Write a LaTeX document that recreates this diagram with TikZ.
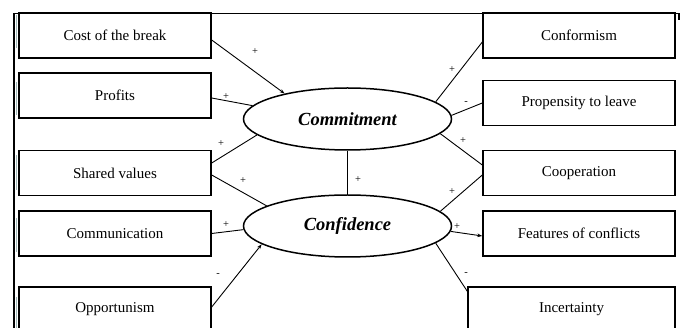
\documentclass[tikz,border=0pt]{standalone}
\usepackage{fontspec}
\setmainfont{Liberation Serif}
\usetikzlibrary{arrows.meta,shapes.geometric}
\definecolor{shadowline}{RGB}{160,185,185}
\tikzset{
  x=1pt,y=-1pt,
  box/.style={draw=black,line width=1.4pt,minimum width=192pt,minimum height=45pt,
    inner sep=0pt,font=\fontsize{15}{18}\selectfont},
  oval/.style={ellipse,draw=black,line width=1.5pt,minimum width=208pt,minimum height=62pt,
    inner sep=0pt,font=\fontsize{18.5}{22}\selectfont\bfseries\itshape},
  link/.style={draw=black,line width=0.9pt},
  arr/.style={link,-{Stealth[length=5pt,width=3.5pt]}},
  sgn/.style={font=\fontsize{10.5}{12}\selectfont,inner sep=0pt},
  shade/.style={draw=shadowline,line width=1.1pt},
  frame/.style={draw=black,line width=1.3pt}
}
\begin{document}
\begin{tikzpicture}
\useasboundingbox (0,0) rectangle (680,328);
\clip (0,0) rectangle (680,328);
\fill[white] (0,0) rectangle (680,328);
% frame
\draw[frame] (14,328) -- (14,13.5) -- (679,13.5) -- (679,20);
% left boxes
\node[box] (cost) at (115,35.5) {Cost of the break};
\node[box] (prof) at (115,95.5) {Profits};
\node[box] (shar) at (115,173) {Shared values};
\node[box] (comm) at (115,233.5) {Communication};
\node[box] (opp) at (115,309.5) {Opportunism};
% shading marks
\draw[shade] (16.5,15) -- (16.5,48);
\draw[shade] (16.5,82) -- (16.5,115);
\draw[shade] (16.5,155) -- (16.5,190);
\draw[shade] (16.5,218) -- (16.5,252);
\draw[shade] (16.5,297) -- (16.5,328);
% right boxes
\node[box] (conf) at (579,35.5) {Conformism};
\node[box] (prop) at (579,103) {Propensity to leave};
\node[box] (coop) at (579,173) {Cooperation};
\node[box] (feat) at (579,233.5) {Features of conflicts};
\node[box,minimum width=207pt] (inc) at (571.5,309.5) {Incertainty};
% ellipses
\node[oval] (cmt) at (347.5,119) {Commitment};
\node[oval] (cfd) at (347.5,226) {Confidence};
% connectors
\draw[arr] ([yshift=-4.5pt]cost.east) -- (cmt.158.8);
\draw[link] ([yshift=-2.5pt]prof.east) -- (cmt.172.8);
\draw[link] ([yshift=10pt]shar.east) -- (cmt.190.1);
\draw[link] ([yshift=-2pt]shar.east) -- (cfd.166.6);
\draw[link] (comm.east) -- (cfd.182.2);
\draw[arr] ([yshift=2.5pt]opp.east) -- (cfd.192.3);
\draw[link] (cmt.11.4) -- ([yshift=-6.5pt]conf.west);
\draw[link] (cmt.2.8) -- (prop.west);
\draw[link] (cmt.-9.1) -- ([yshift=8pt]coop.west);
\draw[link] (cfd.9.1) -- ([yshift=-2pt]coop.west);
\draw[arr] (cfd.-3.3) -- ([yshift=-2.5pt]feat.west);
\draw[link] (cfd.-11.9) -- ([yshift=-5pt]inc.north west);
\draw[link] (cmt.south) -- (cfd.north);
% signs
\node[sgn] (s1) at (255,52) {+};
\node[sgn] (s2) at (226,97) {+};
\node[sgn] (s3) at (221,144) {+};
\node[sgn] (s4) at (243,181) {+};
\node[sgn] (s5) at (226,225) {+};
\node[sgn] (s6) at (218,275) {-};
\node[sgn] (s7) at (452,70) {+};
\node[sgn] (s8) at (466,103) {-};
\node[sgn] (s9) at (463,141) {+};
\node[sgn] (s10) at (452,192) {+};
\node[sgn] (s11) at (457,227) {+};
\node[sgn] (s12) at (466,274) {-};
\node[sgn] (s13) at (358,180) {+};
\end{tikzpicture}
\end{document}
